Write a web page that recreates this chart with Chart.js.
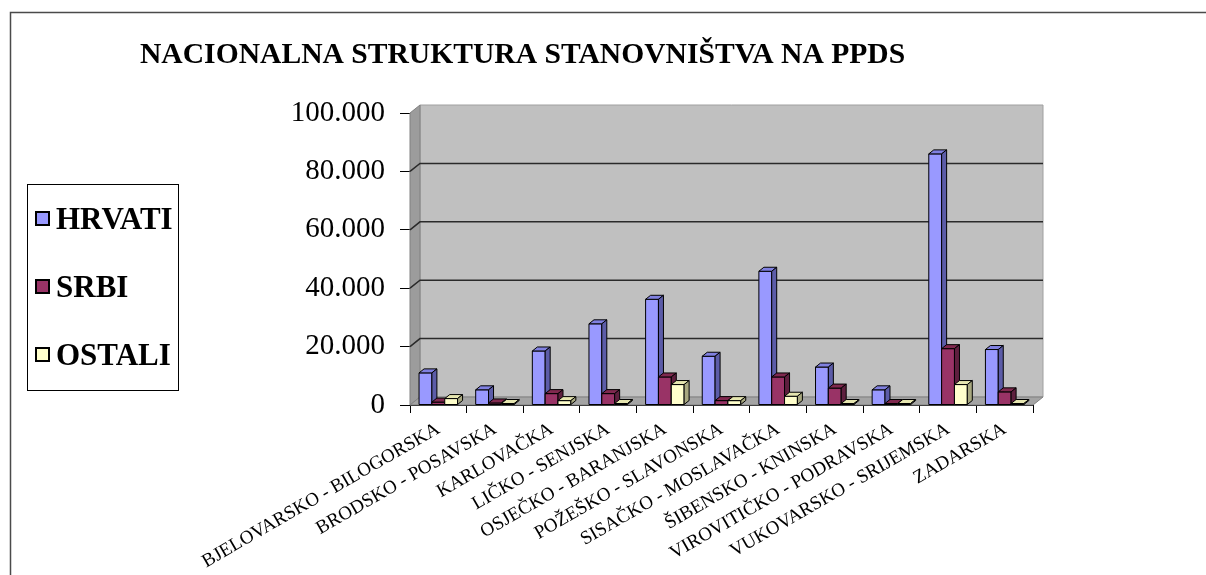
<!DOCTYPE html>
<html>
<head>
<meta charset="utf-8">
<title>Nacionalna struktura stanovništva na PPDS</title>
<script src="https://cdn.jsdelivr.net/npm/chart.js@4.4.1/dist/chart.umd.min.js"></script>
<style>
  html, body { margin: 0; padding: 0; background: #fff; }
  #chart { display: block; }
</style>
</head>
<body>
<canvas id="chart" width="1206" height="575"></canvas>
<script>
const chartTitle = "NACIONALNA STRUKTURA STANOVNIŠTVA NA PPDS";

const categories = [
  "BJELOVARSKO - BILOGORSKA",
  "BRODSKO - POSAVSKA",
  "KARLOVAČKA",
  "LIČKO - SENJSKA",
  "OSJEČKO - BARANJSKA",
  "POŽEŠKO - SLAVONSKA",
  "SISAČKO - MOSLAVAČKA",
  "ŠIBENSKO - KNINSKA",
  "VIROVITIČKO - PODRAVSKA",
  "VUKOVARSKO - SRIJEMSKA",
  "ZADARSKA",
];

const seriesNames = ["HRVATI", "SRBI", "OSTALI"];
const hrvati = [11000, 5200, 18500, 27800, 36200, 16700, 45800, 13000, 5200, 86000, 19000];
const srbi = [1000, 700, 3900, 3900, 9600, 1500, 9600, 5800, 500, 19300, 4500];
const ostali = [2200, 300, 1500, 500, 7000, 1500, 3000, 300, 100, 7000, 300];

const yTicks = [0, 20000, 40000, 60000, 80000, 100000];

// front, top, side colours for each series
const faceColors = [
  { front: "#9999FF", top: "#8080E0", side: "#5C5CA8" },
  { front: "#993366", top: "#80294F", side: "#5E1F3E" },
  { front: "#FFFFCC", top: "#E6E6B0", side: "#A8A880" },
];

// depth of the back wall and of the bars
const wallDx = 10, wallDy = 8;
const barDx = 5, barDy = 4;

const serif = "'Liberation Serif', 'Times New Roman', serif";

function formatThousands(v) {
  return String(v).replace(/\B(?=(\d{3})+(?!\d))/g, ".");
}

function poly(ctx, pts, fill, stroke) {
  ctx.beginPath();
  ctx.moveTo(pts[0][0], pts[0][1]);
  for (let i = 1; i < pts.length; i++) ctx.lineTo(pts[i][0], pts[i][1]);
  ctx.closePath();
  if (fill) {
    ctx.fillStyle = fill;
    ctx.fill();
  }
  if (stroke) {
    ctx.strokeStyle = stroke;
    ctx.stroke();
  }
}

const walls3d = {
  id: "walls3d",
  beforeDatasetsDraw(chart) {
    const { ctx, chartArea: a, scales } = chart;
    const L = a.left, R = a.right, T = a.top, B = a.bottom;
    ctx.save();
    ctx.lineWidth = 1;
    // back wall
    poly(ctx, [[L + wallDx, T - wallDy], [R + wallDx, T - wallDy], [R + wallDx, B - wallDy], [L + wallDx, B - wallDy]], "#C0C0C0", "#A0A0A0");
    // left wall
    poly(ctx, [[L, T], [L + wallDx, T - wallDy], [L + wallDx, B - wallDy], [L, B]], "#9C9C9C", "#808080");
    // floor
    poly(ctx, [[L, B], [L + wallDx, B - wallDy], [R + wallDx, B - wallDy], [R, B]], "#A4A4A4", "#808080");

    // grid lines on back and left wall
    ctx.strokeStyle = "#2a2a2a";
    ctx.lineWidth = 1.5;
    yTicks.forEach((v) => {
      if (v === 0 || v === yTicks[yTicks.length - 1]) return;
      const y = scales.y.getPixelForValue(v);
      ctx.beginPath();
      ctx.moveTo(L, y);
      ctx.lineTo(L + wallDx, y - wallDy);
      ctx.lineTo(R + wallDx, y - wallDy);
      ctx.stroke();
    });
    ctx.restore();
  },
  afterDatasetsDraw(chart) {
    const { ctx } = chart;
    const metas = chart.data.datasets.map((ds, i) => chart.getDatasetMeta(i));
    ctx.save();
    ctx.lineWidth = 1;
    ctx.lineJoin = "round";
    for (let i = 0; i < categories.length; i++) {
      metas.forEach((meta, d) => {
        const bar = meta.data[i];
        if (!bar) return;
        const c = faceColors[d];
        const x0 = bar.x - bar.width / 2;
        const x1 = bar.x + bar.width / 2;
        const top = Math.min(bar.y, bar.base - 1);
        const base = bar.base;
        poly(ctx, [[x0, top], [x1, top], [x1, base], [x0, base]], c.front, "#000");
        poly(ctx, [[x0, top], [x0 + barDx, top - barDy], [x1 + barDx, top - barDy], [x1, top]], c.top, "#000");
        poly(ctx, [[x1, top], [x1 + barDx, top - barDy], [x1 + barDx, base - barDy], [x1, base]], c.side, "#000");
      });
    }
    ctx.restore();
  },
  afterDraw(chart) {
    const { ctx } = chart;
    ctx.save();
    // outer frame (left and top only visible)
    ctx.strokeStyle = "#4a4a4a";
    ctx.lineWidth = 1.5;
    ctx.beginPath();
    ctx.moveTo(10.5, 575);
    ctx.lineTo(10.5, 12.5);
    ctx.lineTo(1206, 12.5);
    ctx.stroke();

    // title
    ctx.fillStyle = "#000";
    ctx.font = "bold 29.6px " + serif;
    ctx.textAlign = "left";
    ctx.textBaseline = "alphabetic";
    ctx.fillText(chartTitle, 140, 63);

    // legend
    ctx.lineWidth = 1;
    ctx.strokeStyle = "#000";
    ctx.strokeRect(27.5, 184.5, 151, 206);
    ctx.textBaseline = "middle";
    chart.data.datasets.forEach((ds, i) => {
      const cy = 219 + i * 68;
      ctx.fillStyle = ds.backgroundColor;
      ctx.fillRect(36, cy - 7, 13, 13);
      ctx.lineWidth = 2;
      ctx.strokeRect(36, cy - 7, 13, 13);
      ctx.fillStyle = "#000";
      ctx.font = "bold 31px " + serif;
      ctx.fillText(ds.label, 56, cy + 2);
    });
    ctx.restore();
  },
};

const seriesData = [hrvati, srbi, ostali];

new Chart(document.getElementById("chart"), {
  type: "bar",
  data: {
    labels: categories,
    datasets: seriesNames.map((name, i) => ({
      label: name,
      data: seriesData[i],
      backgroundColor: faceColors[i].front,
      borderColor: "#000",
      borderWidth: 0,
      barPercentage: 1,
      categoryPercentage: 0.68,
    })),
  },
  options: {
    responsive: false,
    animation: false,
    layout: { padding: { left: 250, top: 113, right: 173, bottom: 0 } },
    plugins: {
      legend: { display: false },
      title: { display: false },
      tooltip: { enabled: false },
    },
    scales: {
      x: {
        offset: true,
        grid: { offset: true, drawOnChartArea: false, tickLength: 8, color: "#000" },
        border: { color: "#000" },
        ticks: {
          autoSkip: false,
          minRotation: 30,
          maxRotation: 30,
          padding: 5,
          color: "#000",
          font: { family: serif, size: 19 },
        },
        afterFit(scale) {
          scale.height = 170;
        },
      },
      y: {
        min: 0,
        max: 100000,
        afterBuildTicks(scale) {
          scale.ticks = yTicks.map((v) => ({ value: v }));
        },
        grid: { drawOnChartArea: false, tickLength: 10, color: "#000" },
        border: { color: "#000" },
        ticks: {
          padding: 15,
          color: "#000",
          font: { family: serif, size: 29 },
          callback: (v) => formatThousands(v),
        },
        afterFit(scale) {
          scale.width = 160;
        },
      },
    },
  },
  plugins: [walls3d],
});
</script>
</body>
</html>
